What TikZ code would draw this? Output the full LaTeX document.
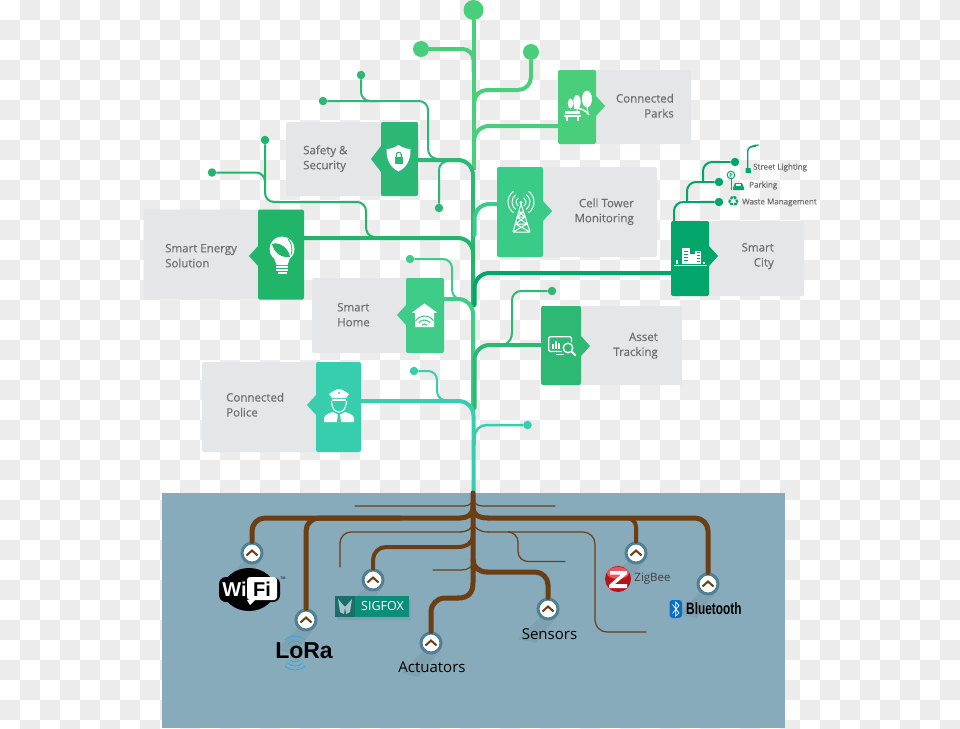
\documentclass[tikz,border=0pt]{standalone}
\usepackage{fontspec}
\setmainfont{Open Sans}
\newfontfamily\cardfont[FakeBold=0.35]{Open Sans}
\newfontfamily\btfont[FakeStretch=0.72]{Liberation Sans}
\newfontfamily\lorafont{Liberation Sans}
\usetikzlibrary{shapes.geometric}
\definecolor{chk}{HTML}{ECECEC}
\definecolor{cardgrey}{HTML}{E5E6E8}
\definecolor{txtgrey}{HTML}{6D6E71}
\definecolor{soil}{HTML}{87ABBA}
\definecolor{rootbrown}{HTML}{6B3E14}
\definecolor{ringc}{HTML}{4F8094}
\definecolor{cpark}{HTML}{49CE7C}
\definecolor{csafe}{HTML}{2DB777}
\definecolor{cenergy}{HTML}{21B56A}
\definecolor{ctower}{HTML}{3ACB88}
\definecolor{ccity}{HTML}{02A66B}
\definecolor{casset}{HTML}{2DB873}
\definecolor{chome}{HTML}{3ECC88}
\definecolor{cpolice}{HTML}{36CEAC}
\definecolor{sfa}{HTML}{0A8E7A}
\definecolor{sfb}{HTML}{1A6E69}
\definecolor{zbred}{HTML}{B9121B}
\definecolor{zbhi}{HTML}{E9555B}
\definecolor{btblue}{HTML}{0A6FC2}
\definecolor{loracyan}{HTML}{29ABE2}
\tikzset{
  x=1pt,y=-1pt,
  bgcard/.style={fill=cardgrey,rounded corners=2pt,inner sep=0pt,outer sep=0pt,anchor=north west},
  panel/.style={fill=#1,rounded corners=2pt,inner sep=0pt,outer sep=0pt,anchor=north west},
  cardtext/.style={text=txtgrey,font=\cardfont\fontsize{11.5}{15}\selectfont,inner sep=0pt,align=#1},
  smalltext/.style={text=txtgrey,font=\cardfont\fontsize{8}{10}\selectfont,inner sep=0pt},
  bigdot/.style={circle,fill=#1,inner sep=0pt,minimum size=16pt},
  smalldot/.style={circle,fill=#1,inner sep=0pt,minimum size=8.5pt},
  branch/.style={draw=#1,line width=4pt,rounded corners=15pt,line cap=round},
  twig/.style={draw=#1,line width=2pt,rounded corners=9pt},
  twigend/.style={draw=#1,line width=2pt,line cap=round},
  root/.style={draw=rootbrown,line width=#1,rounded corners=13pt,line cap=round},
  rootend/.style={draw=rootbrown,line width=#1,line cap=round},
  ring/.style={circle,fill=white,draw=ringc,line width=3pt,inner sep=0pt,minimum size=20pt},
}
\newcommand{\ringshadow}[2]{%
  \fill[black,opacity=.05] (#1-8,#2+8) -- (#1-30,#2+30) -- (#1-12,#2+34) -- (#1+8,#2+9) -- cycle;
}
\newcommand{\chev}[2]{%
  \draw[rootbrown,line width=2pt] (#1-5.5,#2+2.5) -- (#1,#2-2.5) -- (#1+5.5,#2+2.5);
}
\begin{document}
\begin{tikzpicture}
\useasboundingbox (0,0) rectangle (960,728);
\clip (0,0) rectangle (960,728);
\fill[white] (0,0) rectangle (960,728);
\foreach \i in {0,...,47}{\foreach \j in {0,...,36}{%
  \pgfmathtruncatemacro\k{mod(\i+\j,2)}%
  \ifnum\k=1 \fill[chk] (\i*20,\j*20) rectangle (\i*20+20,\j*20+20);\fi}}

% soil
\fill[soil] (162,493) rectangle (785,728);

% cards
\node[bgcard,minimum width=132pt,minimum height=74pt] (safetycard) at (286,122) {};
\fill[csafe] (381,146) -- (371,159) -- (381,172) -- cycle;
\node[panel=csafe,minimum width=37pt,minimum height=74pt] (safety) at (381,122) {};
\node[bgcard,minimum width=160pt,minimum height=90pt] (energycard) at (143.5,209.5) {};
\fill[cenergy] (258,246) -- (249,256) -- (258,266) -- cycle;
\node[panel=cenergy,minimum width=46pt,minimum height=90pt] (energy) at (258,209.5) {};
\node[bgcard,minimum width=133pt,minimum height=74pt] (parkcard) at (558,70) {};
\node[panel=cpark,minimum width=38pt,minimum height=74pt] (park) at (558,70) {};
\fill[cpark] (596,96) -- (605,106) -- (596,116) -- cycle;
\node[bgcard,minimum width=160pt,minimum height=90pt] (towercard) at (497,167) {};
\node[panel=ctower,minimum width=46pt,minimum height=90pt] (tower) at (497,167) {};
\fill[ctower] (543,201) -- (552,211) -- (543,221) -- cycle;
\node[bgcard,minimum width=133pt,minimum height=75pt] (citycard) at (671,221) {};
\node[panel=ccity,minimum width=38pt,minimum height=75pt] (city) at (671,221) {};
\fill[ccity] (709,246) -- (718,256) -- (709,266) -- cycle;
\node[bgcard,minimum width=141pt,minimum height=79pt] (assetcard) at (541,306) {};
\node[panel=casset,minimum width=40pt,minimum height=79pt] (asset) at (541,306) {};
\fill[casset] (581,336) -- (590,346) -- (581,356) -- cycle;
\node[bgcard,minimum width=132pt,minimum height=75pt] (homecard) at (312,278) {};
\fill[chome] (406,305) -- (397,315) -- (406,325) -- cycle;
\node[panel=chome,minimum width=38pt,minimum height=75pt] (home) at (406,278) {};
\node[bgcard,minimum width=159pt,minimum height=90pt] (policecard) at (202,362) {};
\fill[cpolice] (316,395) -- (307,405) -- (316,415) -- cycle;
\node[panel=cpolice,minimum width=45pt,minimum height=90pt] (police) at (316,362) {};

% ports and junctions
\coordinate (tA) at (473.5,170);
\coordinate (tC) at (473,305);
\coordinate (tD) at (473,410);
\coordinate (tE) at (473.5,493);
\coordinate (tF) at (474.5,305);
\coordinate (tG) at (474.5,408);
\coordinate (pEnergy) at (304,238);
\coordinate (pPark) at (558,126);
\coordinate (pTower) at (497,204);
\coordinate (pCity) at (671,273);
\coordinate (pAsset) at (541,345);
\coordinate (pHome) at (444,299);
\coordinate (pPolice) at (361,401);
\coordinate (pSafety) at (418,160);

% dots
\node[bigdot=cpark,minimum size=20pt] (crown) at (473.5,10) {};
\node[bigdot=cpark] (dL) at (421,49) {};
\node[bigdot=cpark] (dR) at (531,52) {};
\node[smalldot=csafe] (s1) at (361,75) {};
\node[smalldot=csafe] (s2) at (323,101) {};
\node[smalldot=csafe] (s3) at (439,208) {};
\node[smalldot=cenergy] (e1) at (265,140) {};
\node[smalldot=cenergy] (e2) at (212,172.5) {};
\node[smalldot=chome] (h1) at (410,259) {};
\node[smalldot=cpolice] (p1) at (414,371) {};
\node[smalldot=cpolice] (p2) at (527.5,425) {};
\node[smalldot=casset] (a1) at (552,291) {};
\node[smalldot=ccity] (c1) at (735,162) {};
\node[smalldot=ccity] (c2) at (719,182) {};
\node[smalldot=ccity] (c3) at (719,202) {};

% green branches
\draw[draw=cpark,line width=4pt] (crown) -- (tA);
\draw[draw=cpark,line width=4pt,rounded corners=11pt] (dL) -| (473.5,72);
\draw[draw=cpark,line width=4pt,rounded corners=13pt] (dR) |- (474,90) -- (474,112);
\draw[branch=cpark] (pPark) -| (474,150);
\draw[twig=csafe] (s2) -| (428,148);
\draw[twigend=csafe] (428,148) .. controls (428,154) and (431,158) .. (437,159);
\draw[twig=csafe] (s1) |- (378,101);
\draw[twig=csafe] (s3) |- (462,161);
\draw[branch=csafe] (pSafety) -| (473,250);
\draw[branch=ctower] (pTower) -| (474.5,235);
\draw[twig=cenergy] (e2) -| (265,183);
\draw[twig=cenergy] (e1) |- (366,202) -- (366,226);
\draw[twigend=cenergy] (366,226) .. controls (366,232) and (368,236) .. (374,237);
\draw[branch=cenergy] (pEnergy) -| (tC);
\draw[twig=chome] (h1) -| (452,288);
\draw[twigend=chome] (452,288) .. controls (452,294) and (454,298) .. (460,299);
\draw[twig=ccity] (c3) -| (674,221);
\draw[twig=ccity] (c2) -| (687,202);
\draw[twig=ccity] (c1) -| (703,182);
\draw[branch=ccity] (pCity) -| (tF);
\draw[branch=chome] (pHome) -| (tD);
\draw[twig=casset] (a1) -| (512,332);
\draw[twigend=casset] (512,332) .. controls (512,338) and (510,342) .. (504,345);
\draw[branch=casset] (pAsset) -| (tG);
\draw[twig=cpolice] (p1) -| (437,390);
\draw[twigend=cpolice] (437,390) .. controls (437,395) and (439,399) .. (444,400);
\draw[draw=cpolice,line width=2.5pt,rounded corners=12pt] (p2) -| (474.5,445);
\draw[branch=cpolice,line cap=butt] (pPolice) -| (tE);

% roots
\ringshadow{252}{553}\ringshadow{306}{620}\ringshadow{373}{580}\ringshadow{431}{643}\ringshadow{548}{609}\ringshadow{636}{553}\ringshadow{708}{584}
\node[ring] (wifi) at (252,553) {};
\node[ring] (lora) at (306,620) {};
\node[ring] (sigfox) at (373,580) {};
\node[ring] (actuators) at (431,643) {};
\node[ring] (sensors) at (548,609) {};
\node[ring] (zigbee) at (636,553) {};
\node[ring] (bluetooth) at (708,584) {};
\coordinate (r0) at (473,493);
\coordinate (r1) at (473,507);
\coordinate (r2) at (473,523);
\coordinate (r3) at (473,535);
\coordinate (tl1) at (355,506);
\coordinate (tr1) at (555,506);
\coordinate (th1) at (340,567);
\coordinate (th2) at (433,570);
\coordinate (th3) at (646,632);
\coordinate (th4) at (565,561.5);
\draw[rootend=1.2pt] (tl1) -- (464,506) .. controls (469,506) and (473,503) .. (473,498);
\draw[rootend=1.2pt] (473,498) .. controls (474,503) and (477,506) .. (482,506) -- (tr1);
\draw[root=1.3pt,rounded corners=11pt] (th1) |- (460,532);
\draw[rootend=1.3pt] (460,532) .. controls (466,532) and (473,529) .. (r2);
\draw[rootend=1.2pt] (th2) -- (462,570) .. controls (467,570) and (473,567) .. (473,562);
\draw[rootend=1.2pt] (r2) .. controls (474,528) and (480,532) .. (488,532);
\draw[root=1.2pt,rounded corners=12pt] (488,532) -- (595,532) |- (th3);
\draw[root=1.2pt,rounded corners=10pt] (510,532) -| (518,561.5) -- (th4);
\draw[root=5pt] (wifi.north) |- (460,518);
\draw[rootend=5pt] (460,518) .. controls (467,518) and (473,515) .. (r1);
\draw[root=5pt] (lora.north) |- (400,518);
\draw[root=4pt] (sigfox.north) |- (458,547);
\draw[rootend=4pt] (458,547) .. controls (466,547) and (473,543) .. (r3);
\draw[rootend=5pt] (r1) .. controls (473,515) and (479,518) .. (488,518);
\draw[root=5pt] (488,518) -- (708,518) -- (bluetooth.north);
\draw[root=4pt,rounded corners=9pt] (600,518) -| (zigbee.north);
\draw[rootend=5pt] (473,560) .. controls (473,567) and (479,572) .. (487,572);
\draw[root=5pt] (487,572) -| (sensors.north);
\draw[rootend=5pt] (r0) -- (473,583) .. controls (473,593) and (468,598) .. (458,598);
\draw[root=5pt,rounded corners=14pt] (458,598) -| (actuators.north);
\chev{252}{553}\chev{306}{620}\chev{373}{580}\chev{431}{643}\chev{548}{609}\chev{636}{553}\chev{708}{584}

% card text
\node[cardtext=left,anchor=west] (t1) at (303,158.7) {Safety \&\\Security};
\node[cardtext=left,anchor=west] (t2) at (165,255.7) {Smart Energy\\Solution};
\node[cardtext=right,anchor=east] (t3) at (674,105.7) {Connected\\Parks};
\node[cardtext=right,anchor=east] (t4) at (634,211.7) {Cell Tower\\Monitoring};
\node[cardtext=right,anchor=east] (t5) at (774,256.2) {Smart\\City};
\node[cardtext=right,anchor=east] (t6) at (658,345.7) {Asset\\Tracking};
\node[cardtext=left,anchor=west] (t7) at (337,314.7) {Smart\\Home};
\node[cardtext=left,anchor=west] (t8) at (226,404.7) {Connected\\Police};
\node[smalltext,anchor=west] (l1) at (753,167.5) {Street Lighting};
\node[smalltext,anchor=west] (l2) at (749,185.5) {Parking};
\node[smalltext,anchor=west] (l3) at (742,202.5) {Waste Management};

% icons: shield
\fill[white] (398.5,145) .. controls (403,148) and (407,149) .. (410.5,149) .. controls (411,160) and (406,168) .. (398.5,171.5) .. controls (391,168) and (386,160) .. (386.5,149) .. controls (390,149) and (394,148) .. (398.5,145) -- cycle;
\fill[csafe] (394.5,157) rectangle (403,164);
\draw[csafe,line width=1.1pt] (396.3,157) -- (396.3,154.5) .. controls (396.3,151.5) and (401.2,151.5) .. (401.2,154.5) -- (401.2,157);
% bulb
\fill[white] (282,249) circle[radius=12.5pt];
\fill[white] (274,258) -- (290,258) -- (287.5,265) -- (276.5,265) -- cycle;
\fill[white] (276,266) rectangle (288,267.6);
\fill[white] (276,269) rectangle (288,270.6);
\fill[white] (277.5,272) rectangle (286.5,274);
\fill[cenergy] (272,244) .. controls (280,241) and (289,249) .. (290,257) .. controls (280,258) and (274,252) .. (272,244) -- cycle;
\draw[cenergy,line width=.8pt] (288,239) .. controls (292,243) and (293,250) .. (291,255);
% parks
\fill[white] (587,99) ellipse[x radius=5pt,y radius=8.5pt];
\fill[white] (577,102) ellipse[x radius=3.7pt,y radius=7pt];
\fill[white] (570.5,103.5) ellipse[x radius=2.6pt,y radius=5pt];
\draw[white,line width=1pt] (577,108) -- (577,113) (587,106) -- (588,114);
\draw[white,line width=1.5pt] (574,108) .. controls (580,108) and (586,110) .. (589,115);
\fill[white] (565,111) rectangle (580,114);
\fill[white] (564,115) rectangle (581,117);
\fill[white] (566,117) rectangle (568,121);
\fill[white] (577,117) rectangle (579,121);
% tower
\draw[white,line width=1pt] (521,204) -- (513,232) (521,204) -- (530,232) (513,232) -- (530,232)
  (518.5,212) -- (523.5,212) (517,217) -- (525,217) (515.5,224) -- (527,224) (518.5,212) -- (525,217) -- (515.5,224) -- (530,232) (523.5,212) -- (517,217) -- (527,224) -- (513,232);
\fill[white] (521,202.5) circle[radius=1.7pt];
\foreach \r in {5,9,13}{
  \draw[white,line width=1pt] (521,202) ++(-55:\r pt) arc (-55:55:\r pt);
  \draw[white,line width=1pt] (521,202) ++(125:\r pt) arc (125:235:\r pt);
}
% city
\fill[white] (682,248) rectangle (690,264);
\fill[white] (695,251) rectangle (701,264);
\fill[white] (690,254) rectangle (695,264);
\fill[white] (676,260) rectangle (678,264);
\foreach \y in {251,254,257,260}{\fill[ccity] (684,\y) rectangle (688,\y+1.2);\fill[ccity] (696.5,\y+1) rectangle (699.5,\y+2.2);}
\draw[white,line width=1pt] (674,265) -- (707,265);
\fill[white] (703,262) rectangle (705,264);
% asset
\draw[white,line width=1.3pt,rounded corners=1.5pt] (548.7,336.7) rectangle (571.5,351.5);
\fill[white] (552,344) rectangle (553.8,349);
\fill[white] (555,340.5) rectangle (556.8,349);
\fill[white] (558,342.5) rectangle (559.8,349);
\fill[white] (556,353.5) rectangle (564,355);
\fill[casset] (568,348.5) circle[radius=7pt];
\draw[white,line width=1.4pt] (568,348) circle[radius=4.8pt];
\draw[white,line width=1.8pt,line cap=round] (571.5,351.5) -- (575.5,355.5);
% home
\fill[white] (412,312.5) -- (424.5,303.5) -- (437,312.5) -- (434,313) -- (434,327) -- (415,327) -- (415,313) -- cycle;
\foreach \r in {3,7,11}{\draw[chome,line width=1.1pt] (424.5,327) ++(35:\r pt) arc (35:145:\r pt);}
% police
\fill[white] (329,394) .. controls (333,391) and (337,389) .. (339,389) .. controls (341,389) and (345,391) .. (349,394) -- (346,398) -- (332,398) -- cycle;
\fill[white] (332,399) rectangle (346,401);
\fill[cpolice] (339,393) circle[radius=1.2pt];
\draw[white,line width=1.1pt] (331.5,401) .. controls (332,409) and (335,412) .. (339,412) .. controls (343,412) and (346,409) .. (346.5,401);
\fill[white] (324,422) -- (324,418) .. controls (325,414) and (330,413) .. (333,412) -- (339,415) -- (345,412) .. controls (348,413) and (353,414) .. (354,418) -- (354,422) -- cycle;
\fill[cpolice] (338,414) -- (340,414) -- (341,422) -- (337,422) -- cycle;
% street lamp, parking, recycling
\fill[ccity] (745.5,168) -- (745.5,173) -- (751,173) -- (750.5,168) -- cycle;
\draw[ccity,line width=1.4pt] (747.7,168) -- (747.7,151) .. controls (747.7,147) and (752,146) .. (756,146);
\fill[ccity] (750,148) .. controls (753,144) and (757,144) .. (760,145) -- cycle;
\draw[ccity,line width=1pt] (731,175) circle[radius=3.8pt];
\node[text=ccity,font=\cardfont\fontsize{5}{6}\selectfont,inner sep=0pt] (psign) at (731,175) {P};
\draw[ccity,line width=.8pt] (731,179) -- (731,190);
\fill[ccity] (733,188) -- (735,183) -- (742,183) -- (744,188) -- (744,190) -- (733,190) -- cycle;
\fill[white] (736,184.2) rectangle (741,186.2);
\node[text=ccity,font=\fontspec{DejaVu Sans}\fontsize{14}{14}\selectfont,inner sep=0pt] (recy) at (733.5,202) {♻};

% logos
\fill[black] (249,589.5) ellipse[x radius=26pt,y radius=21.5pt];
\fill[black,rounded corners=7pt] (219,577) rectangle (280,602);
\fill[white,rounded corners=3pt] (247,577) rectangle (277,600);
\fill[white] (247,600) -- (250,605) -- (256,599) -- cycle;
\node[text=white,font=\lorafont\bfseries\fontsize{20}{21}\selectfont,inner sep=0pt] (wiw) at (234.5,589) {Wi};
\node[text=black,font=\lorafont\bfseries\fontsize{20}{21}\selectfont,inner sep=0pt] (wif) at (262,589) {Fi};
\node[text=black,font=\lorafont\fontsize{3.5}{4}\selectfont,inner sep=0pt] (witm) at (283,578) {TM};
\foreach \r in {6,10,15}{
  \draw[loracyan,line width=.8pt] (295,651) ++(48:\r pt) arc (48:132:\r pt);
}
\foreach \r in {7,11,15}{
  \draw[loracyan,line width=.8pt] (295,655) ++(228:\r pt) arc (228:312:\r pt);
}
\node[text=black,font=\lorafont\bfseries\fontsize{23}{24}\selectfont,inner sep=0pt] (lorat) at (304,651) {LoRa};
\fill[black,opacity=.06] (337,600) rectangle (411,620);
\fill[sfa] (335,596) rectangle (409,617);
\fill[sfb] (335,596) rectangle (355,617);
\fill[white,opacity=.6] (338,599) -- (345,607) -- (344,614) -- (340,612) -- cycle;
\fill[white,opacity=.6] (352,599) -- (345,607) -- (346,614) -- (350,612) -- cycle;
\node[text=white,font=\fontspec{Open Sans}\fontsize{12.5}{14}\selectfont,inner sep=0pt] (sft) at (382.5,606.5) {SIGFOX};
\node[text=black,font=\fontspec{Open Sans}\fontsize{15}{17}\selectfont,inner sep=0pt] (act) at (432,667) {Actuators};
\node[text=black,font=\fontspec{Open Sans}\fontsize{15}{17}\selectfont,inner sep=0pt] (sen) at (549.5,634) {Sensors};
\fill[zbred] (618,579) circle[radius=13pt];
\fill[zbhi] (618,573) ellipse[x radius=11pt,y radius=6pt];
\fill[white] (610,571) -- (627,571) -- (627,574) -- (615,584) -- (627,584) -- (627,588) -- (609,588) -- (609,585) -- (621,574.5) -- (610,574.5) -- cycle;
\node[text=black!75,font=\fontspec{Open Sans}\fontsize{11.5}{12}\selectfont,inner sep=0pt] (zbt) at (652.5,579) {ZigBee};
\fill[btblue,rounded corners=3pt] (669.5,600) rectangle (682,618);
\draw[white,line width=.7pt] (672.5,604.5) -- (679,613) -- (675.7,616) -- (675.7,602) -- (679,605.5) -- (672.5,613.5);
\node[text=black,font=\btfont\bfseries\fontsize{16.5}{18}\selectfont,inner sep=0pt,anchor=west] (btt) at (686,609) {Bluetooth};
\end{tikzpicture}
\end{document}
